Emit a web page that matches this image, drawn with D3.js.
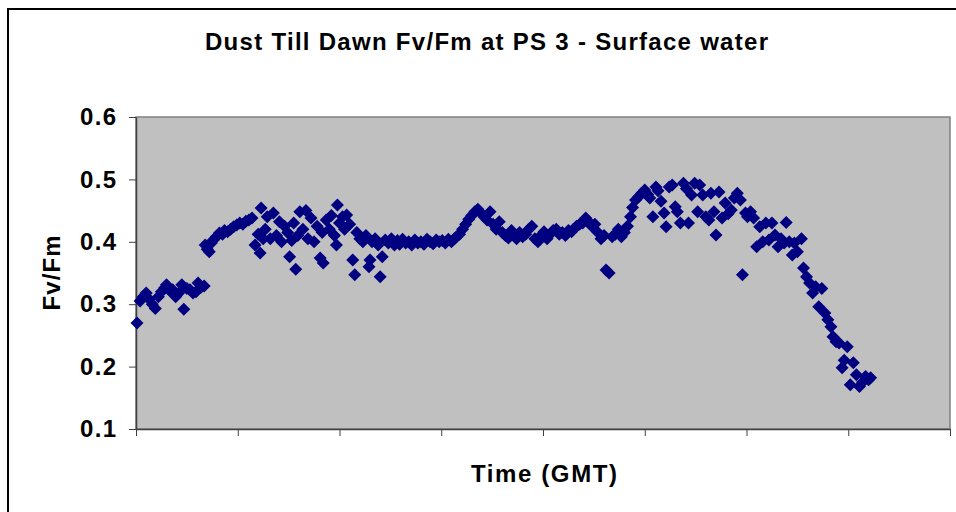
<!DOCTYPE html>
<html>
<head>
<meta charset="utf-8">
<script src="https://cdn.jsdelivr.net/npm/d3@7"></script>
<style>
  html, body { margin: 0; padding: 0; background: #ffffff; }
  svg { display: block; font-family: "Liberation Sans", Arial, sans-serif; }
</style>
</head>
<body>
<svg id="chart" width="956" height="512"></svg>
<script>
// Time (hours from start of record, one axis tick per unit)
const times = [
  0.01,0.04,0.07,0.10,0.13,0.16,0.19,0.22,0.25,0.28,0.30,0.33,0.36,0.39,0.42,0.45,0.47,0.50,0.53,0.56,0.59,0.61,0.64,0.67,
  0.68,0.70,0.72,0.74,0.76,0.79,0.82,0.85,0.87,0.90,0.93,0.96,0.99,1.02,1.05,1.08,1.11,1.14,
  1.17,1.20,1.22,1.23,1.25,1.27,1.29,1.32,1.35,1.38,1.41,1.43,1.46,1.49,1.51,1.53,1.55,1.57,1.59,1.61,1.64,1.67,1.69,1.72,
  1.75,1.78,1.81,1.83,1.84,1.87,1.90,1.92,1.95,1.97,1.98,2.00,2.03,2.05,2.07,2.10,2.13,2.15,2.17,2.20,2.23,2.26,2.29,2.30,
  2.32,2.35,2.38,2.40,2.42,2.45,
  2.48,2.51,2.54,2.57,2.59,2.62,2.65,2.68,2.71,2.74,2.77,2.80,2.83,2.86,2.89,2.92,2.95,2.98,
  3.01,3.04,3.07,3.10,3.13,3.15,3.18,3.21,3.24,3.27,3.30,3.33,3.36,3.39,3.42,3.45,3.48,3.51,3.54,3.57,3.60,3.63,3.66,3.69,
  3.71,3.74,3.77,3.80,3.83,3.86,3.89,3.92,3.95,3.98,4.01,4.04,4.07,4.10,4.13,4.16,4.19,4.22,4.25,4.28,4.30,4.33,4.36,4.39,
  4.42,4.45,4.48,4.51,4.54,4.57,4.60,4.62,4.65,4.68,4.71,4.74,4.77,4.80,4.83,
  4.86,4.88,4.91,4.94,4.97,5.00,5.03,5.05,5.08,5.11,5.13,5.16,5.19,5.21,5.24,5.27,5.30,5.32,5.35,5.38,5.41,5.43,5.46,5.49,
  5.52,5.54,5.57,5.60,5.63,5.65,5.68,5.70,5.73,5.76,5.79,5.82,5.85,5.88,5.91,5.94,5.96,5.99,6.01,6.04,6.07,6.10,6.13,6.16,
  6.19,6.22,6.25,6.28,6.31,6.34,6.37,6.39,6.42,6.45,6.47,6.50,6.54,6.56,6.59,6.62,6.65,6.68,6.71,6.74,6.77,6.80,6.83,6.85,
  6.88,6.91,6.94,6.96,6.99,7.02,7.05,7.08,7.11,7.14,7.17,7.20,7.22
];
// Fv/Fm readings
const fvfm = [
  0.270,0.305,0.312,0.318,0.308,0.300,0.293,0.312,0.320,0.326,0.331,0.322,0.323,0.312,0.318,0.331,0.292,0.325,0.323,0.318,0.320,0.334,0.327,0.329,
  0.395,0.388,0.384,0.398,0.403,0.408,0.414,0.412,0.418,0.416,0.420,0.424,0.427,0.430,0.428,0.433,0.435,0.438,
  0.395,0.412,0.382,0.454,0.405,0.420,0.440,0.405,0.446,0.410,0.432,0.400,0.425,0.415,0.376,0.402,0.430,0.356,0.410,0.448,0.420,0.450,0.405,0.438,
  0.400,0.425,0.374,0.415,0.366,0.435,0.420,0.442,0.410,0.395,0.459,0.430,0.440,0.420,0.443,0.428,0.371,0.347,0.415,0.405,0.400,0.410,0.360,0.371,
  0.400,0.405,0.395,0.344,0.376,0.403,
  0.398,0.405,0.395,0.402,0.396,0.404,0.398,0.400,0.395,0.403,0.398,0.400,0.396,0.404,0.400,0.397,0.403,0.400,
  0.402,0.398,0.404,0.400,0.405,0.408,0.412,0.420,0.428,0.436,0.442,0.448,0.452,0.446,0.440,0.435,0.448,0.428,0.420,0.432,0.415,0.410,0.406,0.418,
  0.410,0.405,0.415,0.408,0.412,0.420,0.425,0.405,0.400,0.410,0.416,0.405,0.412,0.418,0.420,0.412,0.415,0.410,0.418,0.416,0.420,0.425,0.428,0.430,
  0.438,0.432,0.425,0.428,0.415,0.405,0.410,0.355,0.350,0.408,0.412,0.420,0.408,0.415,0.425,
  0.440,0.455,0.467,0.472,0.478,0.483,0.476,0.470,0.440,0.488,0.482,0.465,0.446,0.424,0.488,0.491,0.456,0.448,0.430,0.494,0.485,0.430,0.475,0.494,
  0.448,0.491,0.475,0.440,0.435,0.478,0.448,0.411,0.480,0.438,0.462,0.445,0.451,0.470,0.478,0.467,0.347,0.446,0.440,0.448,0.438,0.392,0.424,0.400,
  0.430,0.403,0.430,0.411,0.392,0.405,0.398,0.431,0.400,0.379,0.398,0.384,0.405,0.358,0.344,0.334,0.318,0.328,0.296,0.325,0.286,0.275,0.264,0.248,
  0.240,0.238,0.198,0.210,0.232,0.171,0.206,0.187,0.168,0.175,0.184,0.179,0.182
];
const yTicks = [0.1, 0.2, 0.3, 0.4, 0.5, 0.6];
const xTicks = [0, 1, 2, 3, 4, 5, 6, 7, 8];
const titleText = "Dust Till Dawn Fv/Fm at PS 3 - Surface water";
const xLabel = "Time (GMT)";
const yLabel = "Fv/Fm";

const data = times.map((t, i) => ({ t: t, v: fvfm[i] }));

const svg = d3.select("#chart");
const plotLeft = 136, plotRight = 950, plotTop = 117, plotBottom = 429;

const x = d3.scaleLinear().domain([0, 8]).range([plotLeft, plotRight]);
const y = d3.scaleLinear().domain([0.1, 0.6]).range([plotBottom, plotTop]);

// Outer chart border
svg.append("rect")
  .attr("x", 8).attr("y", 9)
  .attr("width", 1000).attr("height", 600)
  .attr("fill", "#ffffff")
  .attr("stroke", "#000000")
  .attr("stroke-width", 2);

// Title
svg.append("text")
  .attr("x", 486.5).attr("y", 50)
  .attr("text-anchor", "middle")
  .attr("font-size", 24).attr("font-weight", "bold")
  .attr("textLength", 563).attr("lengthAdjust", "spacing")
  .text(titleText);

// Plot area
svg.append("rect")
  .attr("x", plotLeft).attr("y", plotTop)
  .attr("width", plotRight - plotLeft).attr("height", plotBottom - plotTop)
  .attr("fill", "#c0c0c0")
  .attr("stroke", "#808080")
  .attr("stroke-width", 1.5);

// Y axis
const yAxis = svg.append("g")
  .attr("transform", `translate(${plotLeft},0)`)
  .call(d3.axisLeft(y).tickValues(yTicks).tickFormat(d3.format(".1f")).tickSize(7).tickSizeOuter(0).tickPadding(10));
yAxis.select(".domain").attr("stroke", "#404040").attr("stroke-width", 1.5);
yAxis.selectAll(".tick line").attr("stroke", "#404040");
yAxis.selectAll(".tick text")
  .attr("font-size", 24).attr("font-weight", "bold").attr("fill", "#000")
  .attr("font-family", "'Liberation Sans', Arial, sans-serif")
  .attr("x", -20)
  .attr("textLength", 36).attr("lengthAdjust", "spacing");

// X axis
const xAxis = svg.append("g")
  .attr("transform", `translate(0,${plotBottom})`)
  .call(d3.axisBottom(x).tickValues(xTicks).tickFormat("").tickSize(7).tickSizeOuter(0));
xAxis.select(".domain").attr("stroke", "#404040").attr("stroke-width", 1.5);
xAxis.selectAll(".tick line").attr("stroke", "#404040");

// Axis titles
svg.append("text")
  .attr("x", 544).attr("y", 482)
  .attr("text-anchor", "middle")
  .attr("font-size", 24).attr("font-weight", "bold")
  .attr("textLength", 146).attr("lengthAdjust", "spacing")
  .text(xLabel);

svg.append("text")
  .attr("transform", "translate(60,273) rotate(-90)")
  .attr("text-anchor", "middle")
  .attr("font-size", 24).attr("font-weight", "bold")
  .attr("textLength", 75).attr("lengthAdjust", "spacing")
  .text(yLabel);

// Diamond markers
const r = 6.5;
const diamond = `M0,${-r}L${r},0L0,${r}L${-r},0Z`;
svg.append("g")
  .selectAll("path")
  .data(data)
  .join("path")
  .attr("d", diamond)
  .attr("transform", d => `translate(${x(d.t)},${y(d.v)})`)
  .attr("fill", "#000080");
</script>
</body>
</html>
